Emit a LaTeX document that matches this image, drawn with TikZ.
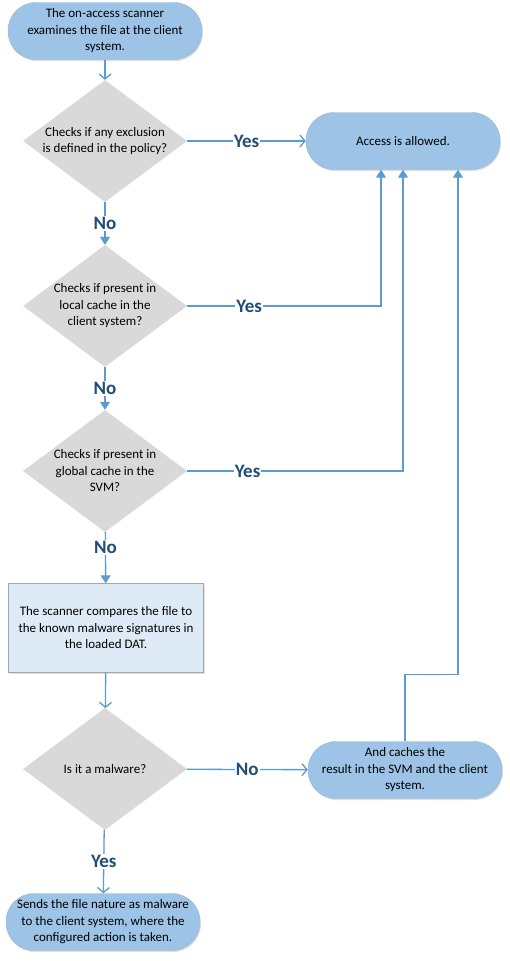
\documentclass[tikz,border=0pt]{standalone}
\usepackage{fontspec}
\setmainfont{Carlito}
\usetikzlibrary{shapes.geometric,arrows.meta,shadows}

\definecolor{pillblue}{HTML}{9DC3E6}
\definecolor{boxblue}{HTML}{DEEBF7}
\definecolor{decgray}{HTML}{D9D9D9}
\definecolor{flowblue}{HTML}{5B9BD5}
\definecolor{lbldark}{HTML}{1F4E79}

\tikzset{
  pill/.style={rectangle, rounded corners=28pt, fill=pillblue, draw=pillblue!80!gray,
    minimum width=194pt, minimum height=57pt, align=center, inner sep=2pt,
    font=\fontsize{13}{16.5}\selectfont,
    drop shadow={shadow xshift=1pt, shadow yshift=-1.5pt, opacity=0.25}},
  procbox/.style={rectangle, fill=boxblue, draw=black!35, minimum width=195pt,
    minimum height=89pt, align=center, font=\fontsize{13}{16.5}\selectfont,
    drop shadow={shadow xshift=1pt, shadow yshift=-1.5pt, opacity=0.25}},
  decision/.style={diamond, fill=decgray, minimum width=164pt, minimum height=122pt,
    inner sep=0pt},
  dectext/.style={align=center, font=\fontsize{13}{16.5}\selectfont},
  flow/.style={draw=flowblue, line width=1.3pt},
  openhead/.style={-{Straight Barb[length=5pt,width=12pt]}},
  fullhead/.style={-{Triangle[length=8pt,width=10pt]}},
  lbl/.style={fill=white, text=lbldark, inner sep=1pt,
    font=\fontsize{19}{21}\selectfont\bfseries}
}

\begin{document}
\begin{tikzpicture}[x=1pt,y=-1pt]
\useasboundingbox (0,0) rectangle (510,961);

% main column
\node[pill] (start) at (105,31) {The on-access scanner\\examines the file at the client\\system.};
\node[decision, label={[dectext]center:Checks if any exclusion\\is defined in the policy?}] (excl) at (105,141) {};
\node[decision, label={[dectext]center:Checks if present in\\local cache in the\\client system?}] (local) at (105,306) {};
\node[decision, label={[dectext]center:Checks if present in\\global cache in the\\SVM?}] (global) at (105,471) {};
\node[procbox] (compare) at (106,628) {The scanner compares the file to\\the known malware signatures in\\the loaded DAT.};
\node[decision, label={[dectext]center:Is it a malware?}] (malware) at (105,769) {};
\node[pill] (sends) at (103,922) {Sends the file nature as malware\\to the client system, where the\\configured action is taken.};

% right column
\node[pill] (access) at (403,141) {Access is allowed.};
\node[pill] (caches) at (405,770) {And caches the\\result in the SVM and the client\\system.};

% connectors
\draw[flow,openhead] (start) -- (excl);
\draw[flow,openhead] (excl) -- node[lbl]{Yes} (access);
\draw[flow,fullhead] (excl) -- node[lbl]{No} (local);
\draw[flow,fullhead] (local.east) -| node[lbl,pos=0.16]{Yes} ([xshift=-22pt]access.south);
\draw[flow,fullhead] (local) -- node[lbl]{No} (global);
\draw[flow,fullhead] (global.east) -| node[lbl,pos=0.14]{Yes} (access.south);
\draw[flow,fullhead] (global) -- node[lbl,pos=0.3]{No} (compare);
\draw[flow,openhead] (compare) -- (malware);
\draw[flow,openhead] (malware) -- node[lbl]{No} (caches);
\draw[flow,fullhead] (caches.north) -- ++(0,-67) -| ([xshift=55pt]access.south);
\draw[flow,openhead] (malware) -- node[lbl]{Yes} (sends);
\end{tikzpicture}
\end{document}
